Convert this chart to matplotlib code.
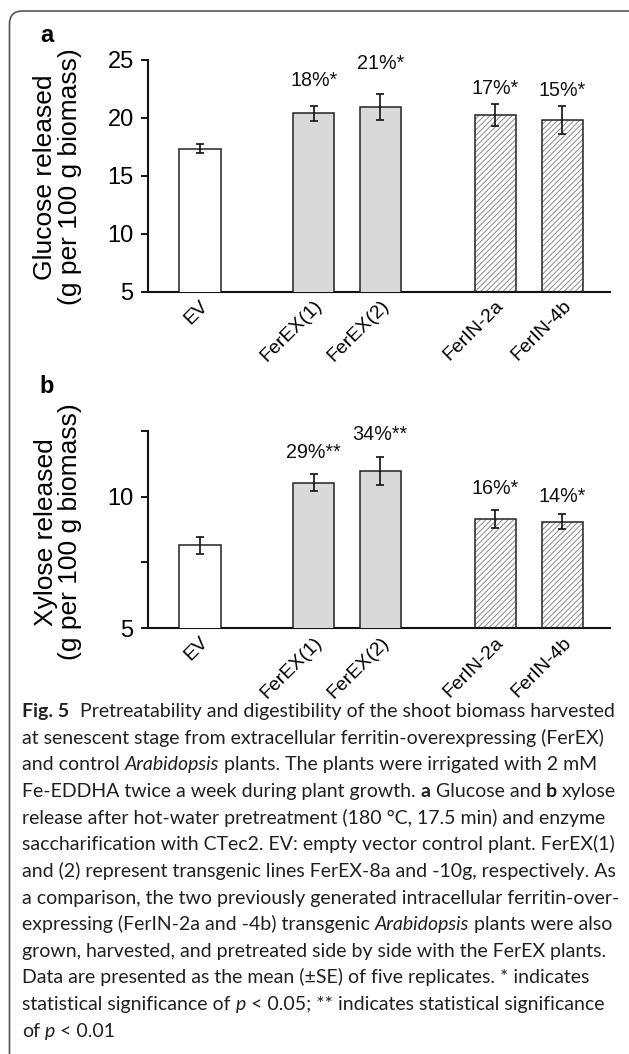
import matplotlib
matplotlib.use('Agg')
import matplotlib.pyplot as plt
from matplotlib.patches import FancyBboxPatch

# ---------------- data ----------------
categories = ['EV', 'FerEX(1)', 'FerEX(2)', 'FerIN-2a', 'FerIN-4b']
glucose = [17.35, 20.4, 20.95, 20.25, 19.85]
glucose_se = [0.37, 0.66, 1.1, 0.97, 1.2]
glucose_labels = ['', '18%*', '21%*', '17%*', '15%*']
xylose = [8.15, 10.53, 10.97, 9.16, 9.04]
xylose_se = [0.32, 0.33, 0.54, 0.34, 0.28]
xylose_labels = ['', '29%**', '34%**', '16%*', '14%*']
bar_style = ['white', 'gray', 'gray', 'hatch', 'hatch']

# ---------------- layout ----------------
xpos = [0, 1.71, 2.71, 4.44, 5.45]
glucose_label_y = [0, 22.79, 24.23, 22.05, 21.9]
xylose_label_y = [0, 11.47, 12.15, 10.10, 9.81]

W, H = 629, 1054
DPI = 100
plt.rcParams['hatch.linewidth'] = 0.7
fig = plt.figure(figsize=(W / DPI, H / DPI), dpi=DPI)
fig.patch.set_facecolor('white')

SANS = ['Liberation Sans', 'DejaVu Sans']


def px_axes(left, top, right, bottom):
    return fig.add_axes([left / W, 1 - bottom / H, (right - left) / W, (bottom - top) / H])


def draw_panel(ax, vals, errs, labels, label_y, ylim, yticks, yticklabels):
    for i, (x, v) in enumerate(zip(xpos, vals)):
        st = bar_style[i]
        if st == 'hatch':
            ax.bar(x, v, width=0.62, color='white', edgecolor='#8a8a8a',
                   hatch='//////', linewidth=0, zorder=2)
            ax.bar(x, v, width=0.62, fill=False, edgecolor='#222222',
                   linewidth=1.1, zorder=3)
        else:
            fc = 'white' if st == 'white' else '#d9d9d9'
            ax.bar(x, v, width=0.62, color=fc, edgecolor='#222222',
                   linewidth=1.1, zorder=3)
    ax.errorbar(xpos, vals, yerr=errs, fmt='none', ecolor='#111111',
                elinewidth=1.2, capsize=3, capthick=1.2, zorder=4)
    for x, t, y in zip(xpos, labels, label_y):
        if t:
            ax.text(x, y, t, ha='center', va='baseline', fontsize=14.2,
                    family=SANS, color='#111111')
    ax.set_xlim(-0.776, 6.165)
    ax.set_ylim(*ylim)
    ax.set_yticks(yticks)
    ax.set_yticklabels(yticklabels, family=SANS, fontsize=17)
    ax.set_xticks(xpos)
    ax.set_xticklabels(categories, rotation=45, ha='right', va='top',
                       rotation_mode='anchor', family=SANS, fontsize=14)
    ax.tick_params(axis='x', length=0, pad=4)
    ax.tick_params(axis='y', direction='out', length=5, width=1.3, pad=5.5)
    for s in ['top', 'right']:
        ax.spines[s].set_visible(False)
    for s in ['left', 'bottom']:
        ax.spines[s].set_linewidth(1.5)
        ax.spines[s].set_color('#111111')


ax_a = px_axes(148.3, 60, 610, 291.7)
draw_panel(ax_a, glucose, glucose_se, glucose_labels, glucose_label_y,
           (5, 25), [5, 10, 15, 20, 25], ['5', '10', '15', '20', '25'])

ax_b = px_axes(148.3, 430.7, 610, 628.3)
draw_panel(ax_b, xylose, xylose_se, xylose_labels, xylose_label_y,
           (5, 12.5), [5, 7.5, 10, 12.5], ['5', '', '10', ''])

fig.text(57.5 / W, 1 - 177 / H, 'Glucose released\n(g per 100 g biomass)',
         rotation=90, ha='center', va='center', fontsize=19, family=SANS,
         linespacing=1.0, multialignment='center')
fig.text(57.5 / W, 1 - 532 / H, 'Xylose released\n(g per 100 g biomass)',
         rotation=90, ha='center', va='center', fontsize=19, family=SANS,
         linespacing=1.0, multialignment='center')

fig.text(46.5 / W, 1 - 42 / H, 'a', fontsize=17, fontweight='bold',
         family=SANS, ha='center', va='baseline')
fig.text(47 / W, 1 - 393 / H, 'b', fontsize=17, fontweight='bold',
         family=SANS, ha='center', va='baseline')

# rounded border (cropped on right and bottom)
border = FancyBboxPatch((9.5, -30), 640, 1073,
                        boxstyle='round,pad=0,rounding_size=13',
                        transform=None, fill=False, edgecolor='#555555',
                        linewidth=1.2)
fig.add_artist(border)

# ---------------- caption ----------------
caption = [
    [('Fig. 5', 'b'), ('Pretreatability and digestibility of the shoot biomass harvested', 'n')],
    [('at senescent stage from extracellular ferritin-overexpressing (FerEX)', 'n')],
    [('and control', 'n'), ('Arabidopsis', 'i'), ('plants. The plants were irrigated with 2 mM', 'n')],
    [('Fe-EDDHA twice a week during plant growth.', 'n'), ('a', 'b'), ('Glucose and', 'n'),
     ('b', 'b'), ('xylose', 'n')],
    [('release after hot-water pretreatment (180 °C, 17.5 min) and enzyme', 'n')],
    [('saccharification with CTec2. EV: empty vector control plant. FerEX(1)', 'n')],
    [('and (2) represent transgenic lines FerEX-8a and -10g, respectively. As', 'n')],
    [('a comparison, the two previously generated intracellular ferritin-over-', 'n')],
    [('expressing (FerIN-2a and -4b) transgenic', 'n'), ('Arabidopsis', 'i'),
     ('plants were also', 'n')],
    [('grown, harvested, and pretreated side by side with the FerEX plants.', 'n')],
    [('Data are presented as the mean (±SE) of five replicates. * indicates', 'n')],
    [('statistical significance of', 'n'), ('p', 'i'),
     ('< 0.05; ** indicates statistical significance', 'n')],
    [('of', 'n'), ('p', 'i'), ('< 0.01', 'n')],
]
CAP_FONT = ['Lato', 'DejaVu Sans']
CAP_COLOR = '#231f20'
fig.canvas.draw()
renderer = fig.canvas.get_renderer()


def make_text(x, y, s, style, size):
    return fig.text(x / W, 1 - y / H, s, fontsize=size, family=CAP_FONT,
                    fontweight='bold' if style == 'b' else 'normal',
                    fontstyle='italic' if style == 'i' else 'normal',
                    ha='left', va='baseline', color=CAP_COLOR)


def width_of(s, style, size):
    t = make_text(0, 0, s, style, size)
    w = t.get_window_extent(renderer).width
    t.remove()
    return w


def gap(k, segs, sp):
    s, st = segs[k]
    return sp * (2.2 if (k == 0 and st == 'b' and s.startswith('Fig')) else 1)


def line_width(segs, size):
    sp = width_of('x x', 'n', size) - width_of('xx', 'n', size)
    tot = 0
    for k, (s, st) in enumerate(segs):
        tot += width_of(s, st, size)
        if k < len(segs) - 1:
            tot += gap(k, segs, sp)
    return tot


trial = 12.0
w1 = line_width(caption[0], trial)
cap_size = trial * 590.0 / w1

x0 = 22
base0 = 717
step = 26.65
sp = width_of('x x', 'n', cap_size) - width_of('xx', 'n', cap_size)
for li, segs in enumerate(caption):
    y = base0 + li * step
    x = x0
    for k, (s, st) in enumerate(segs):
        t = make_text(x, y, s, st, cap_size)
        x += t.get_window_extent(renderer).width
        if k < len(segs) - 1:
            x += gap(k, segs, sp)

fig.savefig('out.png', dpi=DPI, facecolor='white')
